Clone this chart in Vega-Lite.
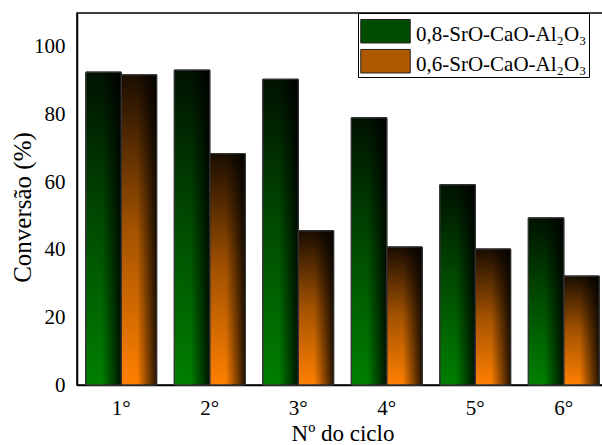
{
  "$schema": "https://vega.github.io/schema/vega-lite/v6.json",
  "width": 531,
  "height": 372,
  "autosize": {"type": "none"},
  "padding": {"left": 77, "top": 13, "right": 0, "bottom": 60},
  "config": {
    "font": "Liberation Serif",
    "view": {"stroke": "black", "strokeWidth": 1.5},
    "text": {"font": "Liberation Serif"},
    "axis": {"labelFont": "Liberation Serif", "titleFont": "Liberation Serif", "labelColor": "black", "titleColor": "black", "titleFontWeight": "normal", "domainColor": "black", "domainWidth": 1.5, "ticks": false, "grid": false},
    "legend": {"labelFont": "Liberation Serif"}
  },
  "data": {"values": [
    {"ciclo": "1°", "serie": "0,8-SrO-CaO-Al₂O₃", "valor": 92.5},
    {"ciclo": "1°", "serie": "0,6-SrO-CaO-Al₂O₃", "valor": 91.7},
    {"ciclo": "2°", "serie": "0,8-SrO-CaO-Al₂O₃", "valor": 93.1},
    {"ciclo": "2°", "serie": "0,6-SrO-CaO-Al₂O₃", "valor": 68.4},
    {"ciclo": "3°", "serie": "0,8-SrO-CaO-Al₂O₃", "valor": 90.4},
    {"ciclo": "3°", "serie": "0,6-SrO-CaO-Al₂O₃", "valor": 45.6},
    {"ciclo": "4°", "serie": "0,8-SrO-CaO-Al₂O₃", "valor": 79.0},
    {"ciclo": "4°", "serie": "0,6-SrO-CaO-Al₂O₃", "valor": 40.8},
    {"ciclo": "5°", "serie": "0,8-SrO-CaO-Al₂O₃", "valor": 59.2},
    {"ciclo": "5°", "serie": "0,6-SrO-CaO-Al₂O₃", "valor": 40.2},
    {"ciclo": "6°", "serie": "0,8-SrO-CaO-Al₂O₃", "valor": 49.4},
    {"ciclo": "6°", "serie": "0,6-SrO-CaO-Al₂O₃", "valor": 32.2}
  ]},
  "encoding": {
    "x": {"field": "ciclo", "type": "nominal", "sort": null,
      "scale": {"paddingInner": 0.2, "paddingOuter": 0.1},
      "axis": {"title": "Nº do ciclo", "labelAngle": 0, "labelFontSize": 21, "titleFontSize": 23, "titleFont": "Liberation Serif", "labelPadding": 12, "titlePadding": 4}},
    "xOffset": {"field": "serie", "type": "nominal", "scale": {"domain": ["0,8-SrO-CaO-Al₂O₃", "0,6-SrO-CaO-Al₂O₃"]}},
    "y": {"field": "valor", "type": "quantitative",
      "scale": {"domain": [0, 110], "nice": false},
      "axis": {"title": "Conversão (%)", "values": [0, 20, 40, 60, 80, 100], "labelFontSize": 21, "titleFontSize": 25, "titleFont": "Liberation Serif", "labelPadding": 12, "titleX": -55, "titleY": 194, "titleAnchor": "middle", "titleBaseline": "middle", "titleAngle": -90}}
  },
  "layer": [
    {
      "mark": {"type": "bar", "stroke": "#333333", "strokeWidth": 1},
      "encoding": {
        "color": {"field": "serie", "type": "nominal",
          "scale": {"domain": ["0,8-SrO-CaO-Al₂O₃", "0,6-SrO-CaO-Al₂O₃"], "range": ["#004c00", "#b05800"]},
          "legend": {"title": null, "orient": "none", "legendX": 281, "legendY": 0,
            "symbolType": "M-1,-0.85H1V0.1H-1Z", "symbolSize": 2450, "symbolStrokeColor": "#222222", "symbolStrokeWidth": 1,
            "labelFontSize": 21, "labelColor": "black", "labelFont": "Liberation Serif", "labelBaseline": "alphabetic", "rowPadding": -12, "padding": 2,
            "strokeColor": "black", "fillColor": "white", "labelOffset": 5, "labelLimit": 300}
        }
      }
    },
    {
      "transform": [{"filter": "datum.serie === '0,8-SrO-CaO-Al₂O₃'"}],
      "mark": {"type": "bar", "stroke": "#333333", "strokeWidth": 1,
        "fill": {"gradient": "linear", "x1": 0, "y1": 0, "x2": 0, "y2": 1, "stops": [{"offset": 0, "color": "#001200"}, {"offset": 0.5, "color": "#004d00"}, {"offset": 1, "color": "#008000"}]}}
    },
    {
      "transform": [{"filter": "datum.serie === '0,6-SrO-CaO-Al₂O₃'"}],
      "mark": {"type": "bar", "stroke": "#333333", "strokeWidth": 1,
        "fill": {"gradient": "linear", "x1": 0, "y1": 0, "x2": 0, "y2": 1, "stops": [{"offset": 0, "color": "#1a0d00"}, {"offset": 0.5, "color": "#a35200"}, {"offset": 1, "color": "#ff8000"}]}}
    },
    {
      "mark": {"type": "bar", "stroke": "#333333", "strokeWidth": 1,
        "fill": {"gradient": "linear", "x1": 0, "y1": 0, "x2": 1, "y2": 0, "stops": [{"offset": 0, "color": "rgba(0,0,0,0)"}, {"offset": 0.45, "color": "rgba(0,0,0,0)"}, {"offset": 1, "color": "rgba(0,0,0,0.85)"}]}}
    }
  ]
}
